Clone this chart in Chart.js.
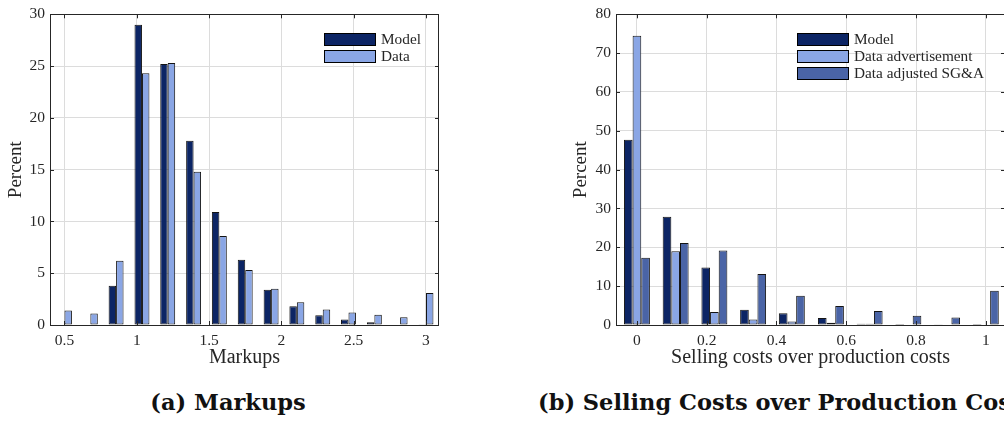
<!DOCTYPE html>
<html>
<head>
<meta charset="utf-8">
<script src="https://cdn.jsdelivr.net/npm/chart.js@4/dist/chart.umd.min.js"></script>
<style>
  html, body { margin: 0; padding: 0; background: #fff; }
  body { position: relative; width: 1004px; height: 421px; overflow: hidden; }
  canvas { position: absolute; top: 0; }
  #markups { left: 0; }
  #selling { left: 566px; }
  .caption {
    position: absolute; top: 391px; margin: 0;
    font: bold 22.5px "DejaVu Serif", serif; line-height: 22.5px;
    color: #111; white-space: nowrap;
  }
  #capA { left: 0; width: 456px; text-align: center; }
  #capB { left: 538px; }
</style>
</head>
<body>
<canvas id="markups" width="460" height="370"></canvas>
<canvas id="selling" width="460" height="370"></canvas>
<div class="caption" id="capA">(a) Markups</div>
<div class="caption" id="capB">(b) Selling Costs over Production Costs</div>
<script>
// Panel (a): markup distribution, model vs data (bin centres and percent shares)
const markupBins  = [0.5, 0.679, 0.857, 1.036, 1.214, 1.393, 1.571, 1.75, 1.929, 2.107, 2.286, 2.464, 2.643, 2.821, 3.0];
const markupModel = [0.05, 0.05, 3.8, 29.0, 25.2, 17.8, 10.9, 6.3, 3.4, 1.8, 0.95, 0.54, 0.26, 0.05, 0.03];
const markupData  = [1.4, 1.1, 6.2, 24.3, 25.3, 14.8, 8.6, 5.3, 3.5, 2.2, 1.5, 1.2, 1.0, 0.76, 3.1];
const markupTicksX = [0.5, 1, 1.5, 2, 2.5, 3];
const markupTicksY = [0, 5, 10, 15, 20, 25, 30];

// Panel (b): selling costs over production costs
const sellBins   = [0, 0.111, 0.222, 0.333, 0.444, 0.556, 0.667, 0.778, 0.889, 1.0];
const sellModel  = [47.7, 27.9, 14.8, 3.9, 3.0, 1.8, 0.3, 0.25, 0.2, 0.25];
const sellAdv    = [74.5, 19.0, 3.35, 1.4, 0.9, 0.55, 0.3, 0.1, 0.1, 0.1];
const sellSGA    = [17.3, 21.1, 19.2, 13.1, 7.5, 4.9, 3.6, 2.4, 1.9, 8.8];
const sellTicksX = [0, 0.2, 0.4, 0.6, 0.8, 1];
const sellTicksY = [0, 10, 20, 30, 40, 50, 60, 70, 80];

const COLOR_MODEL = '#0c2565';
const COLOR_DATA  = '#8aa6e5';
const COLOR_SGA   = '#4a64a6';
const INK  = '#262626';
const GRID = '#dcdcdc';
const SERIF = '"Liberation Serif", "Times New Roman", serif';

// Boxed axes with inward tick marks on all four sides
const frameTicks = {
  id: 'frameTicks',
  afterDatasetsDraw(chart) {
    const { ctx, chartArea: a, scales: { x, y } } = chart;
    const L = 4;
    ctx.save();
    ctx.strokeStyle = INK;
    ctx.lineWidth = 1;
    ctx.beginPath();
    x.ticks.forEach(t => {
      const px = Math.round(x.getPixelForValue(t.value)) + 0.5;
      ctx.moveTo(px, a.bottom); ctx.lineTo(px, a.bottom - L);
      ctx.moveTo(px, a.top);    ctx.lineTo(px, a.top + L);
    });
    y.ticks.forEach(t => {
      const py = Math.round(y.getPixelForValue(t.value)) + 0.5;
      ctx.moveTo(a.left, py);  ctx.lineTo(a.left + L, py);
      ctx.moveTo(a.right, py); ctx.lineTo(a.right - L, py);
    });
    ctx.rect(Math.round(a.left) + 0.5, Math.round(a.top) + 0.5,
             Math.round(a.right - a.left) - 1, Math.round(a.bottom - a.top));
    ctx.stroke();
    ctx.restore();
  }
};

// Legend drawn inside the plot area, top-right, without a surrounding box
const boxLegend = {
  id: 'boxLegend',
  afterDraw(chart, args, o) {
    const { ctx, chartArea: a } = chart;
    const x0 = Math.round(a.right - o.fromRight);
    ctx.save();
    ctx.font = '15.3px ' + SERIF;
    ctx.textBaseline = 'middle';
    chart.data.datasets.forEach((ds, i) => {
      const y0 = Math.round(a.top + o.top + i * o.step);
      ctx.fillStyle = ds.backgroundColor;
      ctx.fillRect(x0, y0, o.boxW, o.boxH);
      ctx.strokeStyle = '#000';
      ctx.lineWidth = 1;
      ctx.strokeRect(x0 + 0.5, y0 + 0.5, o.boxW - 1, o.boxH - 1);
      ctx.fillStyle = INK;
      ctx.fillText(ds.label, x0 + o.boxW + 5, y0 + o.boxH / 2 + 0.5);
    });
    ctx.restore();
  }
};

function series(bins, values, label, color) {
  return {
    label,
    data: bins.map((b, i) => ({ x: b, y: values[i] })),
    backgroundColor: color,
    borderColor: '#141414',
    borderWidth: 1,
    borderSkipped: false,
    barPercentage: 1.0
  };
}

function makeChart(id, cfg) {
  return new Chart(document.getElementById(id), {
    type: 'bar',
    data: { datasets: cfg.datasets },
    options: {
      responsive: false,
      animation: false,
      devicePixelRatio: 1,
      layout: { padding: { top: 9, right: 21, left: 0, bottom: 0 } },
      datasets: { bar: { categoryPercentage: cfg.catPct, grouped: true } },
      plugins: {
        legend: { display: false },
        tooltip: { enabled: false },
        boxLegend: cfg.legend
      },
      scales: {
        x: {
          type: 'linear',
          offset: false,
          min: cfg.xMin, max: cfg.xMax,
          afterBuildTicks: s => { s.ticks = cfg.ticksX.map(v => ({ value: v })); },
          afterFit: s => { s.height = 45; },
          grid: { color: GRID, drawTicks: false, offset: false },
          border: { display: false },
          ticks: {
            padding: 7, color: INK, maxRotation: 0, autoSkip: false,
            font: { family: SERIF, size: 15.5 },
            callback: v => String(v)
          },
          title: {
            display: true, text: cfg.xTitle, color: INK,
            font: { family: SERIF, size: 20, lineHeight: 1.2 },
            padding: { top: 0, bottom: 0.5 }
          }
        },
        y: {
          min: cfg.yTicks[0], max: cfg.yTicks[cfg.yTicks.length - 1],
          afterBuildTicks: s => { s.ticks = cfg.yTicks.map(v => ({ value: v })); },
          afterFit: s => { s.width = 50; },
          grid: { color: GRID, drawTicks: false },
          border: { display: false },
          ticks: {
            padding: 5, color: INK, autoSkip: false,
            font: { family: SERIF, size: 15.5 }
          },
          title: {
            display: true, text: 'Percent', color: INK,
            font: { family: SERIF, size: 19, lineHeight: 1.2 },
            padding: { top: cfg.yTitlePad, bottom: 0 }
          }
        }
      }
    },
    plugins: [frameTicks, boxLegend]
  });
}

makeChart('markups', {
  datasets: [
    series(markupBins, markupModel, 'Model', COLOR_MODEL),
    series(markupBins, markupData, 'Data', COLOR_DATA)
  ],
  catPct: 0.58,
  xMin: 0.4, xMax: 3.09,
  ticksX: markupTicksX,
  yTicks: markupTicksY,
  xTitle: 'Markups',
  yTitlePad: 4.5,
  legend: { fromRight: 115, top: 19, step: 17, boxW: 52, boxH: 13 }
});

makeChart('selling', {
  datasets: [
    series(sellBins, sellModel, 'Model', COLOR_MODEL),
    series(sellBins, sellAdv, 'Data advertisement', COLOR_DATA),
    series(sellBins, sellSGA, 'Data adjusted SG&A', COLOR_SGA)
  ],
  catPct: 0.67,
  xMin: -0.06, xMax: 1.055,
  ticksX: sellTicksX,
  yTicks: sellTicksY,
  xTitle: 'Selling costs over production costs',
  yTitlePad: 4,
  legend: { fromRight: 208, top: 19, step: 17, boxW: 52, boxH: 13 }
});
</script>
</body>
</html>
